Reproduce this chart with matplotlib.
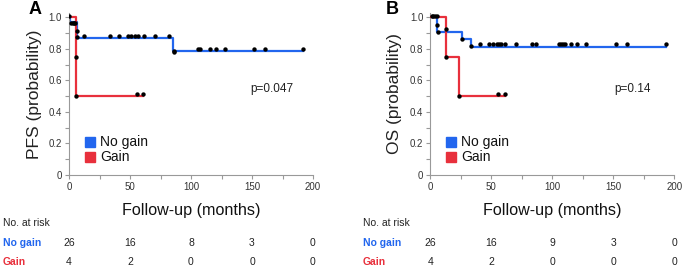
import matplotlib
matplotlib.use("Agg")
import matplotlib.pyplot as plt
from matplotlib.transforms import blended_transform_factory
from matplotlib.patches import Rectangle
from matplotlib.ticker import MultipleLocator

# ---------------- data ----------------
groups = ["No gain", "Gain"]
risk_times = [0, 50, 100, 150, 200]

# Panel A (PFS)
pfs_nogain_t = [0, 0.8, 6.5, 85.5, 192]
pfs_nogain_s = [1.0, 0.97, 0.87, 0.784, 0.784]
pfs_gain_t = [0, 5.5, 61]
pfs_gain_s = [1.0, 0.5, 0.5]
pfs_nogain_dot_t = [0, 1.6, 3, 3.8, 4.9, 6.3, 6.5, 12.6, 33.3, 40.7, 48.4, 50.5, 54.1, 56.3,
                    61.2, 70.5, 82.3, 86, 86, 105.5, 107.4, 115.6, 120.5, 127.5, 152, 160.9, 192.2]
pfs_nogain_dot_s = [1.006, 0.965, 0.965, 0.965, 0.965, 0.915, 0.875, 0.885, 0.885, 0.885, 0.885,
                    0.885, 0.885, 0.885, 0.885, 0.885, 0.885, 0.79, 0.78, 0.797, 0.797, 0.797,
                    0.797, 0.797, 0.797, 0.797, 0.797]
pfs_gain_dot_t = [5.5, 5.5, 55.5, 61]
pfs_gain_dot_s = [0.748, 0.5, 0.513, 0.513]
pfs_risk = {"No gain": [26, 16, 8, 3, 0], "Gain": [4, 2, 0, 0, 0]}
pfs_p = "p=0.047"

# Panel B (OS)
os_nogain_t = [0, 5.5, 26.3, 33.5, 193]
os_nogain_s = [1.0, 0.91, 0.862, 0.815, 0.815]
os_gain_t = [0, 12.6, 23.9, 61.5]
os_gain_s = [1.0, 0.75, 0.5, 0.5]
os_nogain_dot_t = [1.1, 2.5, 3.8, 5.2, 5.2, 6, 12.6, 26, 33, 41, 48.5, 51.5, 55, 56.5, 58, 61.5,
                   70.5, 83, 86.5, 105.5, 107, 108.5, 110, 115.5, 120.5, 127.5, 152.5, 161, 193]
os_nogain_dot_s = [1.01, 1.01, 1.01, 1.01, 0.953, 0.91, 0.926, 0.865, 0.82] + [0.833] * 20
os_gain_dot_t = [12.6, 23.5, 55.5, 61.5]
os_gain_dot_s = [0.746, 0.5, 0.515, 0.515]
os_risk = {"No gain": [26, 16, 9, 3, 0], "Gain": [4, 2, 0, 0, 0]}
os_p = "p=0.14"

BLUE = "#2266ee"
RED = "#e8303c"
colors = {"No gain": BLUE, "Gain": RED}

W, H = 685, 267
fig = plt.figure(figsize=(W / 100, H / 100), dpi=100)
plt.rcParams['font.family'] = ['Liberation Sans', 'DejaVu Sans']


def fx(px):
    return px / W


def fy(py):
    return 1 - py / H


def panel(left_px, letter, ylabel, nt, ns, gt, gs, ndt, nds, gdt, gds, risk, ptext,
          letter_x, ylabel_x, table_x):
    ax_left = fx(left_px)
    ax_w = 244 / W
    ax_b = fy(175)
    ax_h = (175 - 13) / H
    ax = fig.add_axes([ax_left, ax_b, ax_w, ax_h])
    ax.step(nt, ns, where='post', color=BLUE, lw=1.6, zorder=2)
    ax.step(gt, gs, where='post', color=RED, lw=1.6, zorder=3)
    ax.scatter(ndt, nds, s=10, color='black', zorder=5, linewidths=0)
    ax.scatter(gdt, gds, s=10, color='black', zorder=5, linewidths=0)
    ax.set_xlim(0, 200)
    ax.set_ylim(0, 1.028)
    for s in ['top', 'right']:
        ax.spines[s].set_visible(False)
    for s in ['left', 'bottom']:
        ax.spines[s].set_color('#999999')
        ax.spines[s].set_linewidth(0.8)
    ax.xaxis.set_major_locator(MultipleLocator(50))
    ax.xaxis.set_minor_locator(MultipleLocator(25))
    ax.yaxis.set_minor_locator(MultipleLocator(0.1))
    ax.set_yticks([0, 0.2, 0.4, 0.6, 0.8, 1.0])
    ax.set_yticklabels(["0", "0.2", "0.4", "0.6", "0.8", "1.0"])
    ax.tick_params(which='both', direction='out', color='#999999', width=0.8,
                   labelsize=7, labelcolor='#333333', pad=2, length=3)
    ax.set_ylabel(ylabel, fontsize=12.5, color='#222222')
    ax.yaxis.set_label_coords((ylabel_x - left_px) / 244, 0.5)
    ax.text(0.83, 0.53, ptext, transform=ax.transAxes, fontsize=8.5, ha='center',
            va='center', color='#222222')
    # legend
    trf = fig.transFigure
    for i, g in enumerate(groups):
        yc = 141.7 + i * 15.6
        fig.patches.append(Rectangle((fx(left_px + 16), fy(yc + 5)), 10 / W, 10 / H,
                                     transform=trf, color=colors[g], figure=fig))
        fig.text(fx(left_px + 31), fy(yc), g, fontsize=10, va='center', ha='left',
                 color='#111111')
    # panel letter
    fig.text(fx(letter_x), fy(9), letter, fontsize=13, fontweight='bold', ha='center',
             va='center')
    # x label
    fig.text(fx(left_px + 122), fy(211), "Follow-up (months)", fontsize=11.6, ha='center',
             va='center', color='#111111')
    # risk table
    fig.text(fx(table_x), fy(223), "No. at risk", fontsize=7.5, ha='left', va='center',
             color='#222222')
    bt = blended_transform_factory(ax.transData, fig.transFigure)
    for i, g in enumerate(groups):
        yy = fy(242.5 + i * 19.5)
        fig.text(fx(table_x), yy, g, fontsize=7.5, fontweight='bold', color=colors[g],
                 ha='left', va='center')
        for t, n in zip(risk_times, risk[g]):
            fig.text(t, yy, str(n), transform=bt, fontsize=7.5, ha='center', va='center',
                     color='#222222')
    return ax


panel(69, "A", "PFS (probability)", pfs_nogain_t, pfs_nogain_s, pfs_gain_t, pfs_gain_s,
      pfs_nogain_dot_t, pfs_nogain_dot_s, pfs_gain_dot_t, pfs_gain_dot_s, pfs_risk, pfs_p,
      35, 42, 3)
panel(430.3, "B", "OS (probability)", os_nogain_t, os_nogain_s, os_gain_t, os_gain_s,
      os_nogain_dot_t, os_nogain_dot_s, os_gain_dot_t, os_gain_dot_s, os_risk, os_p,
      392, 402, 363)

fig.savefig("out.png", dpi=100)
